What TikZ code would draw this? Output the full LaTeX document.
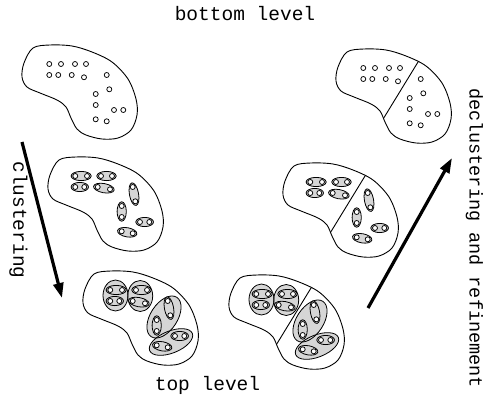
\documentclass[tikz,border=0pt]{standalone}
\usepackage{fontspec}
\newfontfamily\cour{Liberation Mono}
\usetikzlibrary{arrows.meta}
\tikzset{
  outl/.style={line width=0.9pt},
  dotc/.style={line width=0.75pt, fill=white},
  stip/.style={fill=black!16},
  ell/.style={line width=0.8pt},
  bigarrow/.style={line width=3.2pt, -{Triangle[length=15pt,width=10pt]}},
  lbl/.style={font=\cour\fontsize{19.5}{20}\selectfont, inner sep=0pt},
  kidney/.pic={
    \draw[outl] plot[smooth cycle, tension=0.55] coordinates {(0,32) (2,18) (11,3) (28,0) (50,1) (70,7) (90,17) (106,34) (114,54) (115,70) (109,85) (96,93) (80,94) (64,90) (55,84) (49,73) (44,62) (35,55) (18,48) (5,42)};
  },
  divider/.pic={
    \begin{scope}
      \clip plot[smooth cycle, tension=0.55] coordinates {(0,32) (2,18) (11,3) (28,0) (50,1) (70,7) (90,17) (106,34) (114,54) (115,70) (109,85) (96,93) (80,94) (64,90) (55,84) (49,73) (44,62) (35,55) (18,48) (5,42)};
      \draw[outl] (89,1.6) -- (45,73.5);
    \end{scope}
  },
  dots/.pic={
    \foreach \x/\y in {27.3/19, 39/19, 53/19, 64/19, 27.3/30, 36.3/30, 49.7/30, 62/32.3, 84.7/30, 87.3/44.3, 73.7/49, 73.7/60, 92/65, 101.3/65, 73.7/74.3, 84.7/76.3}
      \draw[dotc] (\x,\y) circle[radius=2.5];
  },
  pairs/.pic={
    \foreach \cx/\cy/\rx/\ang in {33.15/19/10.05/0, 58.5/19/9.7/0, 31.8/30/8.7/0, 55.85/31.15/10.45/-10.6, 86/37.15/11.45/-79.7, 73.7/54.5/9.7/90, 96.65/65/8.85/0, 79.2/75.3/9.8/-10.3}
      \draw[ell,stip,rotate around={\ang:(\cx,\cy)}] (\cx,\cy) ellipse[x radius=\rx, y radius=4.6];
  },
  groups/.pic={
    \foreach \cx/\cy/\rx/\ry/\ang in {32.5/24.5/12.5/15.5/0, 57.2/25/12.5/15.5/0, 81/46/23.5/13.5/57, 88/71/23/11/22}
      \fill[stip,rotate around={\ang:(\cx,\cy)}] (\cx,\cy) ellipse[x radius=\rx, y radius=\ry];
    \foreach \cx/\cy/\rx/\ry/\ang in {32.5/24.5/12.5/15.5/0, 57.2/25/12.5/15.5/0, 81/46/23.5/13.5/57, 88/71/23/11/22}
      \draw[ell,rotate around={\ang:(\cx,\cy)}] (\cx,\cy) ellipse[x radius=\rx, y radius=\ry];
  },
}
\begin{document}
\begin{tikzpicture}[x=1pt,y=-1pt]
  \useasboundingbox (0,0) rectangle (484,396);
  % bottom level
  \pic at (22,45) {kidney};
  \pic at (22,45) {dots};
  % clustered once
  \pic at (48,157) {kidney};
  \pic at (48,157) {pairs};
  \pic at (48,157) {dots};
  % top level
  \pic at (83,271) {kidney};
  \pic at (83,271) {groups};
  \pic at (83,271) {pairs};
  \pic at (83,271) {dots};
  % refined top level
  \pic at (229,275) {kidney};
  \pic at (229,275) {divider};
  \pic at (229,275) {groups};
  \pic at (229,275) {pairs};
  \pic at (229,275) {dots};
  % refined middle
  \pic at (283,163) {kidney};
  \pic at (283,163) {divider};
  \pic at (283,163) {pairs};
  \pic at (283,163) {dots};
  % refined bottom
  \pic at (336,49) {kidney};
  \pic at (336,49) {divider};
  \pic at (336,49) {dots};
  % arrows
  \coordinate (cls) at (22,142);
  \coordinate (cle) at (62,298);
  \draw[bigarrow] (cls) -- (cle);
  \coordinate (dcs) at (368,308);
  \coordinate (dce) at (452,158);
  \draw[bigarrow] (dcs) -- (dce);
  % labels
  \node[lbl, anchor=base] (bot) at (245,21) {bottom level};
  \node[lbl, anchor=base] (top) at (207.5,390) {top level};
  \node[lbl, anchor=base, rotate=-90] (clu) at (13.3,220) {clustering};
  \node[lbl, anchor=base, rotate=-90, font=\cour\fontsize{18.5}{20}\selectfont] (dec) at (469.5,238) {declustering and refinement};
\end{tikzpicture}
\end{document}
